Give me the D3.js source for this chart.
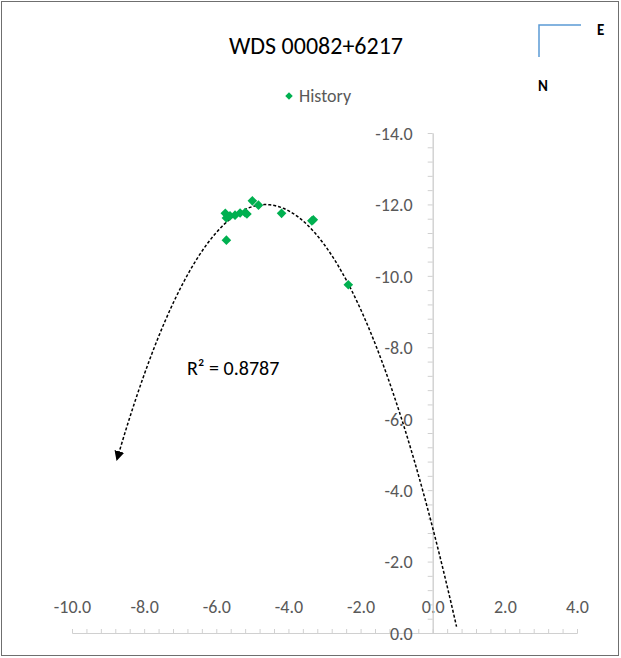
<!DOCTYPE html>
<html>
<head>
    <meta charset="utf-8">
    <title>WDS 00082+6217</title>
    <script type="text/javascript" src="https://cdn.jsdelivr.net/npm/d3@7"></script>
    <style>
        body { margin: 0; background: #fff; }
        text { font-family: Carlito, Calibri, Lato, "Open Sans", sans-serif; }
    </style>
</head>

<body>

<script type="text/javascript">
    // measured positions (x, y) of the history points
    var historyX = [-5.75, -5.72, -5.62, -5.48, -5.34, -5.20, -5.15, -5.00, -4.83, -4.19, -3.35, -3.31, -5.72, -2.34];
    var historyY = [-11.75, -11.62, -11.68, -11.70, -11.76, -11.77, -11.73, -12.10, -11.98, -11.75, -11.54, -11.57, -11.00, -9.75];

    // polynomial (order 2) trendline as drawn: c, b, a in y = a x^2 + b x + c
    var trendCoef = [-2.94, 3.906, 0.4212];
    var forecast = 3;          // forecast both ways, x units
    var r2Label = "R\u00b2 = 0.8787";

    var xMajor = [-10, -8, -6, -4, -2, 0, 2, 4];
    var yMajor = [-14, -12, -10, -8, -6, -4, -2, 0];
    var minorStep = 0.4;

    var width = 621,
        height = 658;

    var svg = d3.select("body").append("svg")
            .attr("width", width)
            .attr("height", height);

    svg.append("rect")
        .attr("x", 1.5).attr("y", 1.5)
        .attr("width", width - 4).attr("height", height - 4)
        .attr("fill", "#fff")
        .attr("stroke", "#6f6f6f");

    var x = d3.scaleLinear().domain([-10, 4]).range([72, 577]);
    var y = d3.scaleLinear().domain([-14, 0]).range([133, 633]);

    var fmt = function(d){ return d.toFixed(1); };

    function renderAxes(){
        var xMinor = d3.range(0, 36).map(function(i){ return -10 + i * minorStep; });
        var yMinor = d3.range(0, 36).map(function(i){ return -14 + i * minorStep; });

        // minor ticks
        svg.append("g")
            .classed("x-minor", true)
            .attr("transform", "translate(0," + y(0) + ")")
            .call(d3.axisTop(x).tickValues(xMinor).tickSize(4).tickSizeOuter(0).tickFormat(""));
        svg.append("g")
            .classed("y-minor", true)
            .attr("transform", "translate(" + x(0) + ",0)")
            .call(d3.axisLeft(y).tickValues(yMinor).tickSize(5).tickSizeOuter(0).tickFormat(""));

        // labels
        svg.append("g")
            .classed("x-axis", true)
            .attr("transform", "translate(0," + y(0) + ")")
            .call(d3.axisTop(x).tickValues(xMajor).tickSize(0).tickPadding(20).tickFormat(fmt));
        svg.append("g")
            .classed("y-axis", true)
            .attr("transform", "translate(" + x(0) + ",0)")
            .call(d3.axisLeft(y).tickValues(yMajor).tickSize(0).tickPadding(20).tickFormat(fmt));

        svg.selectAll(".x-minor path, .y-minor path, .x-minor line, .y-minor line, .x-axis path, .y-axis path")
            .attr("stroke", "#d0d0d0");
        svg.selectAll(".x-axis text, .y-axis text")
            .attr("fill", "#595959")
            .style("font-size", "18px");
        svg.selectAll(".y-axis text").attr("dy", "0.35em");
    }

    function renderTrend(){
        var x0 = d3.min(historyX) - forecast,
            x1 = d3.max(historyX) + forecast;
        var samples = d3.range(0, 121).map(function(i){
            var xv = x0 + (x1 - x0) * i / 120;
            return [xv, trendCoef[0] + trendCoef[1] * xv + trendCoef[2] * xv * xv];
        });

        svg.append("defs").append("marker")
            .attr("id", "arrow")
            .attr("markerUnits", "userSpaceOnUse")
            .attr("viewBox", "0 0 10 10")
            .attr("refX", 8).attr("refY", 5)
            .attr("markerWidth", 10).attr("markerHeight", 10)
            .attr("orient", "auto-start-reverse")
            .append("path")
            .attr("d", "M0,0 L10,5 L0,10 Z")
            .attr("fill", "#000");

        svg.append("path")
            .datum(samples)
            .attr("d", d3.line().x(function(d){ return x(d[0]); }).y(function(d){ return y(d[1]); }))
            .attr("fill", "none")
            .attr("stroke", "#000")
            .attr("stroke-width", 1.5)
            .attr("stroke-dasharray", "3,2")
            .attr("marker-start", "url(#arrow)");

        svg.append("text")
            .attr("x", 187).attr("y", 375)
            .style("font-size", "20px")
            .attr("fill", "#000")
            .text(r2Label);
    }

    function renderPoints(){
        var diamond = d3.symbol().type(d3.symbolSquare).size(46);
        svg.append("g").selectAll("path")
            .data(historyX)
            .enter().append("path")
            .attr("d", diamond)
            .attr("transform", function(d, i){
                return "translate(" + x(d) + "," + y(historyY[i]) + ") rotate(45)";
            })
            .attr("fill", "#00b050");
    }

    function renderLabels(){
        svg.append("text")
            .attr("x", 316).attr("y", 54)
            .attr("text-anchor", "middle")
            .style("font-size", "24px")
            .attr("fill", "#000")
            .text("WDS 00082+6217");

        svg.append("path")
            .attr("d", d3.symbol().type(d3.symbolSquare).size(28))
            .attr("transform", "translate(289,96) rotate(45)")
            .attr("fill", "#00b050");
        svg.append("text")
            .attr("x", 299).attr("y", 102)
            .style("font-size", "18px")
            .attr("fill", "#595959")
            .text("History");

        // orientation marker
        svg.append("path")
            .attr("d", "M539,57 L539,25 L581,25")
            .attr("fill", "none")
            .attr("stroke", "#5b9bd5")
            .attr("stroke-width", 1.5);
        svg.append("text")
            .attr("x", 597).attr("y", 35)
            .style("font-size", "15px").style("font-weight", "bold")
            .text("E");
        svg.append("text")
            .attr("x", 538).attr("y", 91)
            .style("font-size", "15px").style("font-weight", "bold")
            .text("N");
    }

    renderAxes();
    renderTrend();
    renderPoints();
    renderLabels();
</script>

</body>

</html>
